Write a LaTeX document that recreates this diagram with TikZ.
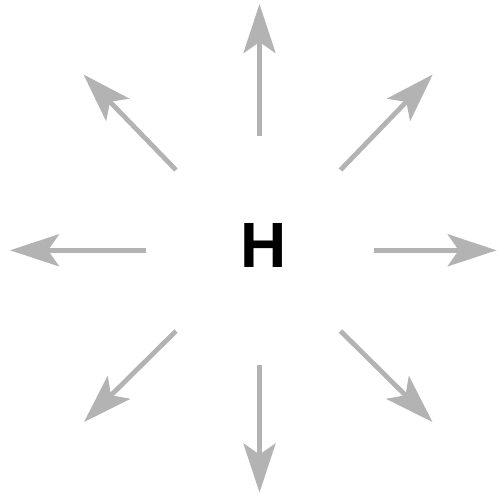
\documentclass[tikz,border=0pt]{standalone}
\usepackage{fontspec}
\setmainfont{Liberation Sans}
\usetikzlibrary{arrows.meta}
\definecolor{arrowgray}{RGB}{179,179,179}
\begin{document}
\begin{tikzpicture}[x=1pt,y=-1pt,
  arr/.style={draw=arrowgray, line width=4.8pt,
    -{Stealth[length=49pt,width=32pt,inset=11pt,fill=arrowgray]}},
  lbl/.style={font=\fontsize{64}{64}\selectfont\bfseries, inner sep=0pt, anchor=base}]
\useasboundingbox (0,0) rectangle (498,493);
\node[lbl] (h) at (263.5,267) {H};
% start and tip coordinates
\coordinate (sN) at (259.5,135.5);  \coordinate (tN) at (259.5,4);
\coordinate (sS) at (259.5,365);    \coordinate (tS) at (259.5,492.5);
\coordinate (sW) at (145.5,250.3);  \coordinate (tW) at (10,250.3);
\coordinate (sE) at (373.5,250.3);  \coordinate (tE) at (496.7,250.3);
\coordinate (sNW) at (176,170);     \coordinate (tNW) at (83.5,74.5);
\coordinate (sNE) at (340.5,170);   \coordinate (tNE) at (432.7,74.5);
\coordinate (sSW) at (176,331);     \coordinate (tSW) at (84,422);
\coordinate (sSE) at (340.5,331);   \coordinate (tSE) at (432.5,422);
\foreach \d in {N,S,W,E,NW,NE,SW,SE}{
  \draw[arr] (s\d) -- (t\d);
}
\end{tikzpicture}
\end{document}
